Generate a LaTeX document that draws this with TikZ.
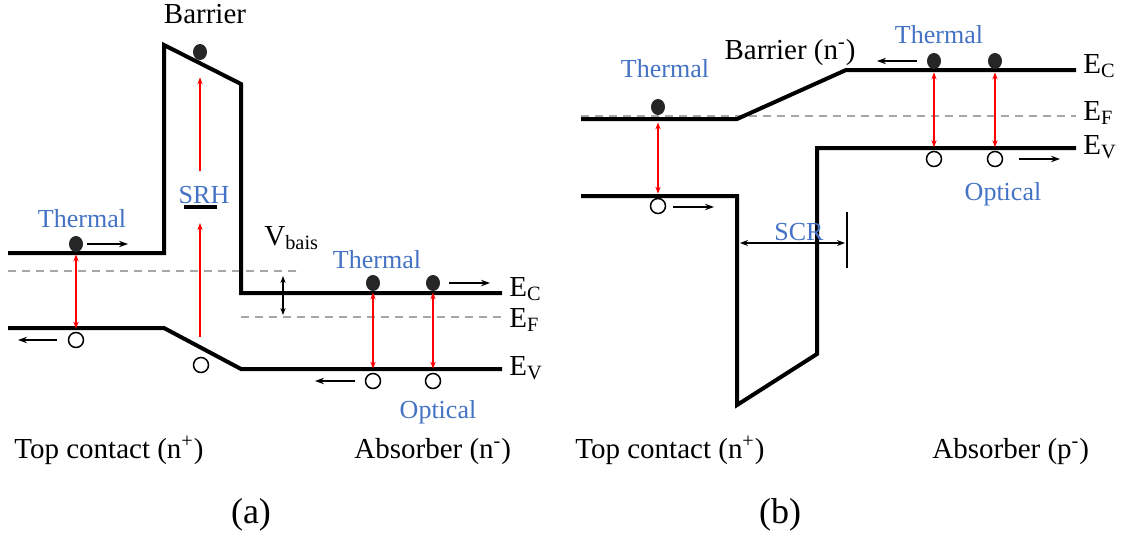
\documentclass[tikz,border=0pt]{standalone}
\usepackage{fontspec}
\setmainfont{Liberation Serif}
\usetikzlibrary{arrows.meta,shapes.geometric}
\definecolor{lblue}{HTML}{4472C4}
\definecolor{dotc}{HTML}{262626}
\definecolor{fgray}{HTML}{A6A6A6}
\begin{document}
\begin{tikzpicture}[x=0.5pt,y=-0.5pt,
  band/.style={line width=2pt},
  fermi/.style={draw=fgray,dash pattern=on 4pt off 3pt,line width=0.75pt},
  trans/.style={draw=red,line width=0.75pt,{Stealth[length=3.5pt,width=2.6pt]}-{Stealth[length=3.5pt,width=2.6pt]}},
  srh/.style={draw=red,line width=0.75pt,-{Stealth[length=3.5pt,width=2.6pt]}},
  elec/.style={ellipse,fill=dotc,minimum width=7pt,minimum height=8pt,inner sep=0pt},
  hole/.style={circle,draw,line width=0.75pt,fill=white,minimum size=7.5pt,inner sep=0pt},
  mov/.style={line width=0.75pt,-{Stealth[length=4.5pt,width=3.2pt]}},
  lab/.style={font=\fontsize{14.5}{17}\selectfont,inner sep=0pt},
  blab/.style={text=lblue,font=\fontsize{13}{15}\selectfont,inner sep=0pt},
  captxt/.style={font=\fontsize{18}{21}\selectfont,inner sep=0pt}
]
\useasboundingbox (0,0) rectangle (1131,536);

% ================= panel (a) =================
\draw[fermi] (8,271) -- (302,271);
\draw[fermi] (241,317) -- (503,317);
\draw[band] (8,253) -- (164,253) -- (164,45) -- (241,84) -- (241,293) -- (502,293);
\draw[band] (8,328) -- (164,328) -- (241,369) -- (502,369);

% carriers
\node[elec] (ea1) at (76,244) {};
\node[hole] (ha1) at (76,340) {};
\node[elec] (eab) at (200,52) {};
\node[hole] (hab) at (201,365) {};
\node[elec] (ea2) at (373,283) {};
\node[elec] (ea3) at (433,283) {};
\node[hole] (ha2) at (373,381) {};
\node[hole] (ha3) at (433,381) {};

% transitions
\draw[trans,shorten <=1pt,shorten >=1.5pt] (ea1) -- (ha1);
\draw[trans,shorten <=0.5pt,shorten >=2pt] (ea2) -- (ha2);
\draw[trans,shorten <=0.5pt,shorten >=2pt] (ea3) -- (ha3);
\node[fill=black,minimum width=16.5pt,minimum height=1.6pt,inner sep=0pt] (trap) at (200,207) {};
\draw[srh,shorten <=10pt,shorten >=7pt] (hab.north -| trap) -- (trap);
\draw[srh,shorten <=17pt,shorten >=8.5pt] (trap) -- (eab);

% motion arrows
\coordinate (ma1) at (128,244);
\draw[mov] ([xshift=5.5pt]ea1.center) -- (ma1);
\coordinate (ma2) at (18,340);
\draw[mov] ([xshift=-9.5pt]ha1.center) -- (ma2);
\coordinate (ma3) at (490,283);
\draw[mov] ([xshift=8pt]ea3.center) -- (ma3);
\coordinate (ma4) at (315,381);
\draw[mov] ([xshift=-9pt]ha2.center) -- (ma4);

% Vbias arrow
\coordinate (vb1) at (283,276);
\coordinate (vb2) at (283,315);
\draw[line width=0.75pt,{Stealth[length=3.5pt,width=2.6pt]}-{Stealth[length=3.5pt,width=2.6pt]}] (vb1) -- (vb2);

% labels
\node[lab,anchor=base] (tbar) at (205,23) {Barrier};
\node[blab,anchor=base] (tth1) at (82,227) {Thermal};
\node[blab,anchor=base] (tsrh) at (204,203) {SRH};
\node[lab,anchor=base west] (tvb) at (264,245) {V\textsubscript{bais}};
\node[blab,anchor=base] (tth2) at (377,268) {Thermal};
\node[blab,anchor=base] (topt1) at (438,418) {Optical};
\node[lab,anchor=base west] (tec1) at (509,296) {E\textsubscript{C}};
\node[lab,anchor=base west] (tef1) at (509,327) {E\textsubscript{F}};
\node[lab,anchor=base west] (tev1) at (509,375) {E\textsubscript{V}};
\node[lab,anchor=base west] (ttc1) at (14,458) {Top contact (n\textsuperscript{+})};
\node[lab,anchor=base west] (tab1) at (354,458) {Absorber (n\textsuperscript{-})};
\node[captxt,anchor=base] (capa) at (251,523) {(a)};

% ================= panel (b) =================
\draw[fermi] (581,116) -- (1076,116);
\draw[band] (581,119) -- (737,119) -- (846,70) -- (1076,70);
\draw[band] (581,196) -- (737,196) -- (737,405) -- (817,354) -- (817,148) -- (1076,148);

\node[elec] (eb1) at (658,107) {};
\node[hole] (hb1) at (658,206) {};
\node[elec] (eb2) at (934,61) {};
\node[elec] (eb3) at (995,61) {};
\node[hole] (hb2) at (934,159) {};
\node[hole] (hb3) at (995,159) {};

\draw[trans,shorten <=3.5pt,shorten >=2pt] (eb1) -- (hb1);
\draw[trans,shorten <=1.5pt,shorten >=1.75pt] (eb2) -- (hb2);
\draw[trans,shorten <=1.5pt,shorten >=1.75pt] (eb3) -- (hb3);

\coordinate (mb1) at (714,207);
\draw[mov] ([xshift=7.5pt,yshift=-0.5pt]hb1.center) -- (mb1);
\coordinate (mb2) at (877,61);
\draw[mov] ([xshift=-8.5pt]eb2.center) -- (mb2);
\coordinate (mb3) at (1060,159);
\draw[mov] ([xshift=12pt]hb3.center) -- (mb3);

% SCR
\coordinate (scr1) at (740,243);
\coordinate (scr2) at (845,243);
\draw[line width=0.75pt,{Stealth[length=4pt,width=3pt]}-{Stealth[length=4pt,width=3pt]}] (scr1) -- (scr2);
\coordinate (bar1) at (847,212);
\coordinate (bar2) at (847,268);
\draw[line width=0.9pt] (bar1) -- (bar2);

\node[blab,anchor=base] (tth3) at (665,77) {Thermal};
\node[lab,anchor=base] (tbarb) at (790,59) {Barrier (n\textsuperscript{-})};
\node[blab,anchor=base] (tth4) at (939,43) {Thermal};
\node[blab,anchor=base] (topt2) at (1003,200) {Optical};
\node[blab,anchor=base] (tscr) at (799,240) {SCR};
\node[lab,anchor=base west] (tec2) at (1083,73) {E\textsubscript{C}};
\node[lab,anchor=base west] (tef2) at (1083,120) {E\textsubscript{F}};
\node[lab,anchor=base west] (tev2) at (1083,154) {E\textsubscript{V}};
\node[lab,anchor=base west] (ttc2) at (575,458) {Top contact (n\textsuperscript{+})};
\node[lab,anchor=base west] (tab2) at (932,458) {Absorber (p\textsuperscript{-})};
\node[captxt,anchor=base] (capb) at (780,523) {(b)};
\end{tikzpicture}
\end{document}
